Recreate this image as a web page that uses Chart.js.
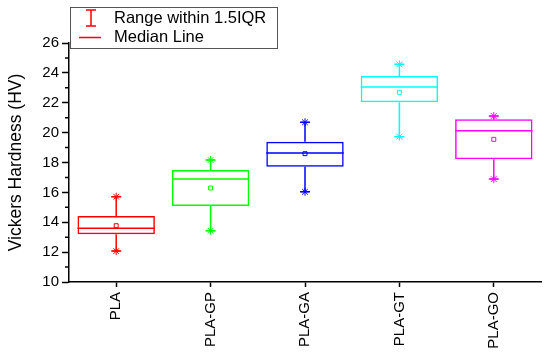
<!DOCTYPE html>
<html>
<head>
<meta charset="utf-8">
<script src="https://cdn.jsdelivr.net/npm/chart.js@4.4.0/dist/chart.umd.min.js"></script>
<style>
  body { margin: 0; background: #fff; }
  #wrap { width: 550px; height: 359px; }
</style>
</head>
<body>
<div id="wrap"><canvas id="hardnessChart"></canvas></div>
<script>
const categories = ['PLA', 'PLA-GP', 'PLA-GA', 'PLA-GT', 'PLA-GO'];
const whiskerMin = [12.07, 13.43, 16.04, 19.73, 16.89];
const q1 = [13.19, 15.09, 17.72, 22.03, 18.21];
const median = [13.59, 16.89, 18.63, 23.05, 20.13];
const q3 = [14.42, 17.50, 19.39, 23.79, 20.89];
const whiskerMax = [15.71, 18.17, 20.69, 24.57, 21.11];
const mean = [13.77, 16.29, 18.59, 22.70, 19.55];
const colors = ['#ff0000', '#00ff00', '#0000ff', '#00ffff', '#ff00ff'];
const yTicks = [10, 12, 14, 16, 18, 20, 22, 24, 26];
const minorTicks = [11, 13, 15, 17, 19, 21, 23, 25];

const FONT = '"Liberation Sans", Arial, sans-serif';

// whiskers, caps, medians, minor ticks and the framed legend
const boxExtras = {
    id: 'boxExtras',
    afterDatasetsDraw(chart) {
        const ctx = chart.ctx;
        const x = chart.scales.x, y = chart.scales.y;
        const boxes = chart.getDatasetMeta(0).data;
        ctx.save();
        ctx.lineWidth = 1.5;
        categories.forEach(function(c, i) {
            const cx = x.getPixelForValue(i);
            const yTop = y.getPixelForValue(whiskerMax[i]);
            const yBot = y.getPixelForValue(whiskerMin[i]);
            ctx.strokeStyle = colors[i];
            ctx.beginPath();
            ctx.moveTo(cx, y.getPixelForValue(q3[i])); ctx.lineTo(cx, yTop);
            ctx.moveTo(cx, y.getPixelForValue(q1[i])); ctx.lineTo(cx, yBot);
            ctx.moveTo(cx - 5, yTop); ctx.lineTo(cx + 5, yTop);
            ctx.moveTo(cx - 5, yBot); ctx.lineTo(cx + 5, yBot);
            const half = boxes[i].width / 2;
            const ym = y.getPixelForValue(median[i]);
            ctx.moveTo(cx - half, ym); ctx.lineTo(cx + half, ym);
            ctx.stroke();
        });
        ctx.restore();
    },
    afterDraw(chart) {
        const ctx = chart.ctx;
        const y = chart.scales.y;
        const left = chart.chartArea.left;
        ctx.save();
        ctx.strokeStyle = '#000';
        ctx.lineWidth = 1.5;
        ctx.beginPath();
        minorTicks.forEach(function(v) {
            const py = y.getPixelForValue(v);
            ctx.moveTo(left - 4, py); ctx.lineTo(left, py);
        });
        ctx.stroke();

        // legend box
        const lx = left + 1, ly = 7, lw = 207, lh = 41;
        ctx.fillStyle = '#fff';
        ctx.fillRect(lx, ly, lw, lh);
        ctx.strokeStyle = '#555';
        ctx.lineWidth = 1;
        ctx.strokeRect(lx + 0.5, ly + 0.5, lw, lh);
        ctx.strokeStyle = 'rgb(255, 0, 0)';
        ctx.lineWidth = 1.5;
        ctx.beginPath();
        ctx.moveTo(lx + 21, 10); ctx.lineTo(lx + 21, 26);
        ctx.moveTo(lx + 16, 10); ctx.lineTo(lx + 26, 10);
        ctx.moveTo(lx + 16, 26); ctx.lineTo(lx + 26, 26);
        ctx.moveTo(lx + 9, 37.5); ctx.lineTo(lx + 31, 37.5);
        ctx.stroke();
        ctx.fillStyle = '#000';
        ctx.font = '16.5px ' + FONT;
        ctx.textBaseline = 'middle';
        ctx.fillText('Range within 1.5IQR', lx + 44, 18);
        ctx.fillText('Median Line', lx + 44, 37);
        ctx.restore();
    }
};

const config = {
    data: {
        labels: categories,
        datasets: [{
            type: 'bar',
            data: categories.map(function(c, i) { return [q1[i], q3[i]]; }),
            backgroundColor: 'rgba(255,255,255,0)',
            borderColor: colors,
            borderWidth: 1.5,
            borderSkipped: false,
            barPercentage: 0.82,
            categoryPercentage: 1
        },
        {
            type: 'line',
            data: mean,
            showLine: false,
            pointStyle: 'rect',
            pointRadius: 2.8,
            pointBorderWidth: 1,
            pointBackgroundColor: '#fff',
            pointBorderColor: colors
        },
        {
            type: 'line',
            data: whiskerMax,
            showLine: false,
            pointStyle: 'star',
            pointRadius: 4,
            pointBorderWidth: 1,
            pointBorderColor: colors
        },
        {
            type: 'line',
            data: whiskerMin,
            showLine: false,
            pointStyle: 'star',
            pointRadius: 4,
            pointBorderWidth: 1,
            pointBorderColor: colors
        }]
    },
    options: {
        responsive: true,
        maintainAspectRatio: false,
        animation: false,
        layout: { padding: { top: 43, right: 9, left: 0, bottom: 0 } },
        plugins: { legend: { display: false }, tooltip: { enabled: false } },
        scales: {
            x: {
                type: 'category',
                offset: true,
                afterFit: function(s) { s.height = 77; },
                grid: { offset: false, drawOnChartArea: false, tickLength: 5, tickColor: '#000', tickWidth: 1.5 },
                border: { color: '#000', width: 1.5 },
                ticks: { minRotation: 90, maxRotation: 90, padding: 5, color: '#000', font: { family: FONT, size: 15 } }
            },
            y: {
                min: 10,
                max: 26,
                afterFit: function(s) { s.width = 69; },
                afterBuildTicks: function(s) { s.ticks = yTicks.map(function(v) { return { value: v }; }); },
                grid: { drawOnChartArea: false, tickLength: 7, tickColor: '#000', tickWidth: 1.5 },
                border: { color: '#000', width: 1.5 },
                ticks: { padding: 3, color: '#000', font: { family: FONT, size: 15 } },
                title: { display: true, text: 'Vickers Hardness (HV)', color: '#000', padding: { top: 6, bottom: 0 }, font: { family: FONT, size: 17.5 } }
            }
        }
    },
    plugins: [boxExtras]
};

new Chart(document.getElementById('hardnessChart'), config);
</script>
</body>
</html>
